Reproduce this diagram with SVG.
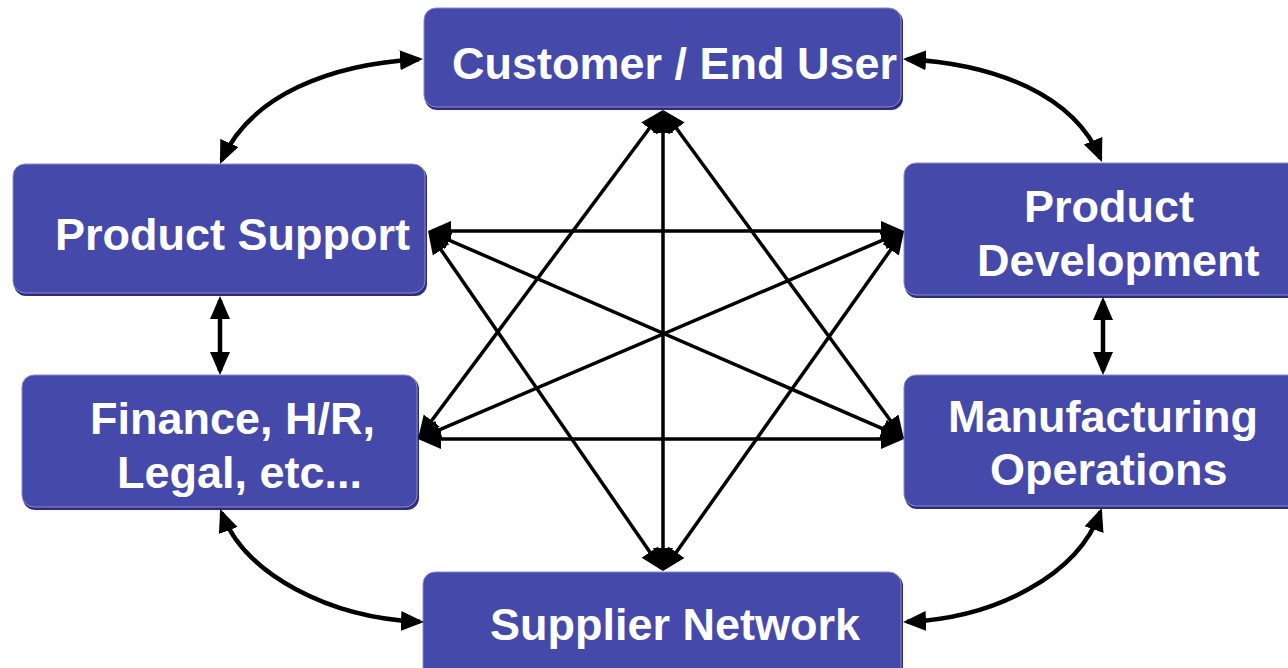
<svg xmlns="http://www.w3.org/2000/svg" width="1288" height="668" viewBox="0 0 1288 668">
<style>
.sh{fill:#2c2e7c}
.bx{fill:#4549a9;stroke:#8a8dcf;stroke-width:1}
.t{font-family:"Liberation Sans",Arial,sans-serif;font-weight:bold;font-size:45px;fill:#ffffff}
.c{fill:none;stroke:#000;stroke-width:4.5;marker-start:url(#ah);marker-end:url(#ah)}
.s{fill:none;stroke:#000;stroke-width:3.5;marker-start:url(#ah);marker-end:url(#ah)}
</style>
<defs>
<marker id="ah" markerUnits="userSpaceOnUse" markerWidth="24" markerHeight="22" viewBox="0 0 24 22" refX="19" refY="11" orient="auto-start-reverse">
<path d="M0,1 L23,11 L0,21 Z" fill="#000"/>
</marker>
</defs>
<rect width="1288" height="668" fill="#ffffff"/>
<g id="customer">
<rect class="sh" x="425" y="10" width="478" height="100" rx="12"/>
<rect class="bx" x="424" y="8" width="477" height="99" rx="12"/>
<text class="t" x="452" y="79">Customer / End User</text>
</g>
<g id="product-support">
<rect class="sh" x="14" y="166" width="413" height="130" rx="12"/>
<rect class="bx" x="13" y="164" width="412" height="129" rx="12"/>
<text class="t" x="55" y="250">Product Support</text>
</g>
<g id="product-development">
<rect class="sh" x="905" y="165" width="400" height="133" rx="12"/>
<rect class="bx" x="904" y="163" width="400" height="132" rx="12"/>
<text class="t" x="1024" y="222">Product</text>
<text class="t" x="977" y="276">Development</text>
</g>
<g id="finance">
<rect class="sh" x="23" y="377" width="396" height="133" rx="12"/>
<rect class="bx" x="22" y="375" width="395" height="132" rx="12"/>
<text class="t" x="90" y="434">Finance, H/R,</text>
<text class="t" x="117" y="488">Legal, etc...</text>
</g>
<g id="manufacturing">
<rect class="sh" x="905" y="377" width="400" height="132" rx="12"/>
<rect class="bx" x="904" y="375" width="400" height="131" rx="12"/>
<text class="t" x="948" y="432">Manufacturing</text>
<text class="t" x="990" y="485">Operations</text>
</g>
<g id="supplier">
<rect class="sh" x="424" y="574" width="479" height="110" rx="12"/>
<rect class="bx" x="423" y="572" width="478" height="110" rx="12"/>
<text class="t" x="490" y="640">Supplier Network</text>
</g>
<g id="connectors">
<path class="c" d="M221.6,160.3 C251,95 330,64 419,59.2"/>
<path class="c" d="M907,59.2 C996,64 1074,95 1100.4,158.3"/>
<path class="c" d="M221.6,512.7 C245,575 330,618 420,621.8"/>
<path class="c" d="M1100.4,511.7 C1078,575 996,618 907,621.8"/>
<path class="c" d="M220,300 L220,371"/>
<path class="c" d="M1103,301 L1103,371"/>
<path class="s" d="M663,114 L663,567"/>
<path class="s" d="M432,231 L900,231"/>
<path class="s" d="M422,439 L900,439"/>
<path class="s" d="M660.6,113.2 L420.4,435.8"/>
<path class="s" d="M665.4,113.2 L901.6,435.8"/>
<path class="s" d="M660.7,567.7 L430.3,234.3"/>
<path class="s" d="M665.3,567.7 L901.7,234.3"/>
<path class="s" d="M431.7,232.6 L900.3,436.4"/>
<path class="s" d="M421.7,437.4 L900.3,232.6"/>
</g>
</svg>
